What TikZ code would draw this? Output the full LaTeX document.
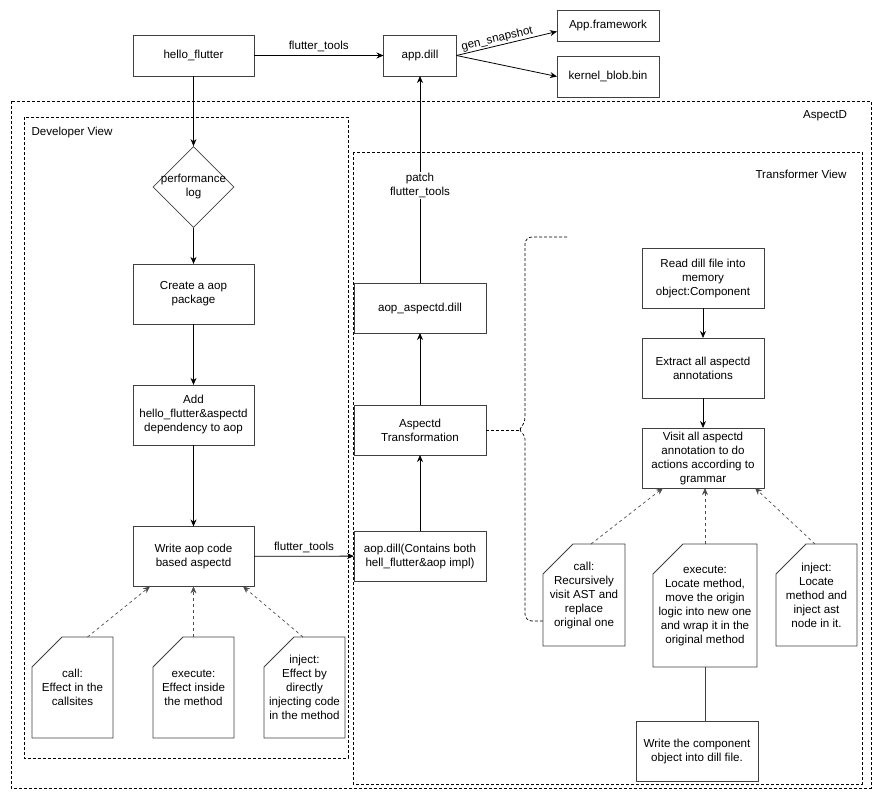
\documentclass[tikz,border=0pt]{standalone}
\usepackage{fontspec}
\setmainfont{Liberation Sans}
\usetikzlibrary{shapes.geometric,arrows.meta,positioning,backgrounds}
\newcommand{\dfont}{\fontsize{11.6}{14}\selectfont}

\begin{document}
\begin{tikzpicture}[
  x=1pt, y=-1pt,
  font=\dfont,
  block/.style={rectangle, draw=black!75, line width=0.8pt, fill=white, align=center,
    inner sep=2pt, outer sep=0pt, minimum width=121pt, minimum height=60pt},
  note/.style={rectangle, align=center, inner sep=1pt, outer sep=0pt,
    minimum width=81pt, minimum height=101pt},
  card/.style={draw=black!75, line width=0.8pt, fill=white},
  frame/.style={draw=black, line width=0.7pt, dash pattern=on 3pt off 2pt},
  link/.style={black, line width=0.8pt, -{Stealth[length=7pt,width=6pt]}},
  hint/.style={black!70, line width=0.7pt, dash pattern=on 3pt off 3pt, -{Stealth[length=7pt,width=6pt]}}
  ]
  \useasboundingbox (0,0) rectangle (884,801);

  % containers
  \draw[frame] (11,101) rectangle (871,788);
  \draw[frame] (24,117) rectangle (348,758);
  \draw[frame] (353,152) rectangle (862,784);
  \node[anchor=west] (devlbl) at (28,132) {Developer View};
  \node (aspectlbl) at (825,116) {AspectD};
  \node[anchor=east] (translbl) at (850,174) {Transformer View};

  % build outputs
  \node[block, minimum height=41pt] (hello) at (193.5,55.5) {hello\_flutter};
  \node[block, minimum width=73pt, minimum height=41pt] (appdill) at (420,55.5) {app.dill};
  \node[block, minimum width=102pt, minimum height=31pt] (appfw) at (608,25.5) {App.framework};
  \node[block, minimum width=102pt, minimum height=41pt, below=15pt of appfw] (kernel) {kernel\_blob.bin};

  % developer view
  \node[diamond, draw=black!75, line width=0.8pt, minimum width=81pt, minimum height=81pt,
    inner sep=0pt, label={[align=center]center:performance\\log}] (perf) at (193.5,187) {};
  \node[block, below=36pt of perf] (create) {Create a aop\\package};
  \node[block, below=61pt of create] (adddep) {Add\\hello\_flutter\&aspectd\\dependency to aop};
  \node[block, below=81.5pt of adddep] (writeaop) {Write aop code\\based aspectd};

  \node[note] (dcall) at (72.5,687.5) {call:\\Effect in the\\callsites};
  \node[note, right=40pt of dcall] (dexec) {execute:\\Effect inside\\the method};
  \node[note, right=30pt of dexec] (dinj) {inject:\\Effect by\\directly\\injecting code\\in the method};

  % transformer view
  \node[block, minimum width=132pt, minimum height=50pt] (aopdill) at (420,556) {aop.dill(Contains both\\hell\_flutter\&aop impl)};
  \node[block, minimum width=132pt, minimum height=50pt, above=76pt of aopdill] (transf) {Aspectd\\Transformation};
  \node[block, minimum width=132pt, minimum height=50pt, above=72pt of transf] (aopaspectd) {aop\_aspectd.dill};

  \node[block, minimum width=122pt] (readdill) at (703,278) {Read dill file into\\memory\\object:Component};
  \node[block, minimum width=122pt, below=30pt of readdill] (extract) {Extract all aspectd\\annotations};
  \node[block, minimum width=122pt, below=30pt of extract] (visit) {Visit all aspectd\\annotation to do\\actions according to\\grammar};

  \node[note, minimum width=82pt, minimum height=102pt] (tcall) at (584,595) {call:\\Recursively\\visit AST and\\replace\\original one};
  \node[note, minimum width=104pt, minimum height=123pt] (texec) at (705,605.5) {execute:\\Locate method,\\move the origin\\logic into new one\\and wrap it in the\\original method};
  \node[note, minimum height=102pt] (tinj) at (816.5,595) {inject:\\Locate\\method and\\inject ast\\node in it.};
  \node[block, minimum width=122pt] (writecomp) at (697,751) {Write the component\\object into dill file.};

  % connectors
  \draw[link] (hello) -- node[above] {flutter\_tools} (appdill);
  \draw[link] (appdill.east) -- node[above, sloped, pos=0.42, inner sep=1pt] {gen\_snapshot} ([yshift=-6pt]appfw.west);
  \draw[link] (appdill.east) -- (kernel.west);
  \draw[link] (hello) -- (perf);
  \draw[link] (perf) -- (create);
  \draw[link] (create) -- (adddep);
  \draw[link] (adddep) -- (writeaop);
  \draw[link] (writeaop) -- node[above] {flutter\_tools} (aopdill);
  \draw[link] (aopdill) -- (transf);
  \draw[link] (transf) -- (aopaspectd);
  \draw[link] (aopaspectd) -- node[pos=0.47, fill=white, align=center, inner sep=1pt] {patch\\flutter\_tools} (appdill);
  \draw[link] (readdill) -- (extract);
  \draw[link] (extract) -- (visit);

  \draw[hint] ([xshift=15pt]dcall.north) -- ([xshift=-43.5pt]writeaop.south);
  \draw[hint] (dexec.north) -- (writeaop.south);
  \draw[hint] ([xshift=-1.5pt]dinj.north) -- ([xshift=49.5pt]writeaop.south);
  \draw[hint] ([xshift=7pt]tcall.north) -- ([xshift=-40pt]visit.south);
  \draw[hint] (texec.north) -- ([xshift=2pt]visit.south);
  \draw[hint] ([xshift=-1.5pt]tinj.north) -- ([xshift=52pt]visit.south);
  \draw[black!75, line width=0.8pt] (texec.south) -- (texec.south |- writecomp.north);

  \coordinate (bracetip) at (519,430);
  \draw[frame] (transf.east) -- (bracetip);

  \begin{scope}[on background layer]
    % curly bracket
    \draw[frame, rounded corners=7pt]
      (567,237) -- (525,237) -- (525,424) [rounded corners=3pt] -- (bracetip) -- (525,436)
      [rounded corners=7pt] -- (525,621) -- (567,621);
    % folded cards
    \foreach \n in {dcall,dexec,dinj,tcall,texec,tinj}
      \draw[card] (\n.south west) -- ([yshift=-30pt]\n.north west) -- ([xshift=30pt]\n.north west)
        -- (\n.north east) -- (\n.south east) -- cycle;
  \end{scope}
\end{tikzpicture}
\end{document}
